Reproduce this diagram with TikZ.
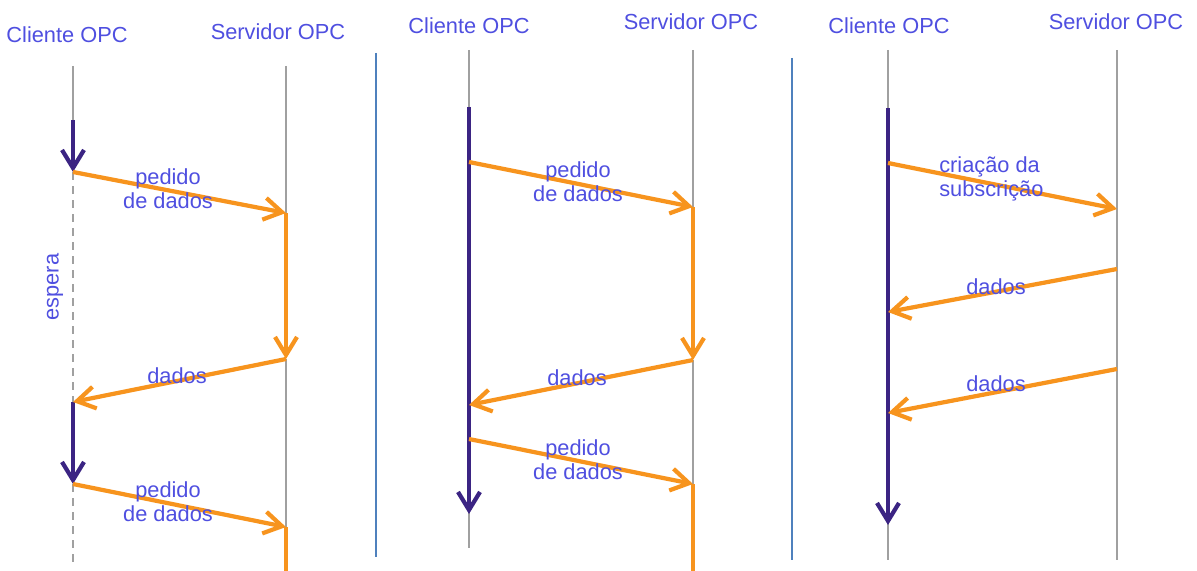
\documentclass[tikz,border=0pt]{standalone}
\usepackage{fontspec}
\setmainfont{Liberation Sans}
\usetikzlibrary{arrows.meta}
\definecolor{TextoOPC}{HTML}{4F4FE0}
\definecolor{LaranjaOPC}{HTML}{F7941E}
\definecolor{RoxoOPC}{HTML}{3B2483}
\definecolor{CinzaOPC}{HTML}{A0A0A0}
\definecolor{AzulOPC}{HTML}{4F81BD}
\begin{document}
\begin{tikzpicture}[x=0.025cm, y=-0.025cm,
        every node/.style={inner sep=0pt, text=TextoOPC, align=center, font=\fontsize{15.5}{17}\selectfont},
        vida/.style={draw=CinzaOPC, line width=1.3pt},
        espera/.style={vida, dash pattern=on 2mm off 1.5mm},
        cliente/.style={draw=RoxoOPC, line width=3pt, -{Straight Barb[length=4.5mm,width=5.5mm]}},
        servico/.style={draw=LaranjaOPC, line width=3pt, -{Straight Barb[length=4.5mm,width=5.5mm]}},
        msg/.style={draw=LaranjaOPC, line width=3pt, -{Straight Barb[length=4.5mm,width=5.5mm]}},
        divisao/.style={draw=AzulOPC, line width=1.4pt}]
        \useasboundingbox (0,0) rectangle (1197,571);

        \node (cli1) at (67,35) {Cliente OPC};
        \node (srv1) at (278,32) {Servidor OPC};
        \coordinate (c1a) at (73,66); \coordinate (c1b) at (73,120);
        \coordinate (c1c) at (73,172); \coordinate (c1d) at (73,402);
        \coordinate (c1e) at (73,484); \coordinate (c1f) at (73,566);
        \coordinate (s1a) at (286,66); \coordinate (s1b) at (286,213);
        \coordinate (s1c) at (286,359); \coordinate (s1d) at (286,527);
        \coordinate (s1e) at (286,571);
        \draw[vida] (c1a) -- (c1b); \draw[cliente] (c1b) -- (c1c);
        \draw[espera] (c1c) -- (c1d); \draw[cliente] (c1d) -- (c1e);
        \draw[espera] (c1e) -- (c1f);
        \draw[vida] (s1a) -- (s1b); \draw[servico] (s1b) -- (s1c);
        \draw[vida] (s1c) -- (s1d); \draw[servico, -] (s1d) -- (s1e);
        \draw[msg] (c1c) -- (s1b); \draw[msg] (s1c) -- (c1d); \draw[msg] (c1e) -- (s1d);
        \node (p1a) at (168,189) {pedido\\de dados};
        \node (d1) at (177,376) {dados};
        \node (p1b) at (168,502) {pedido\\de dados};
        \node[rotate=90] (esp) at (55,287) {espera};

        \coordinate (v1a) at (376,53); \coordinate (v1b) at (376,557);
        \draw[divisao] (v1a) -- (v1b);

        \node (cli2) at (469,26) {Cliente OPC};
        \node (srv2) at (691,22) {Servidor OPC};
        \coordinate (c2a) at (469,50); \coordinate (c2b) at (469,107);
        \coordinate (c2c) at (469,162); \coordinate (c2d) at (469,405);
        \coordinate (c2e) at (469,439); \coordinate (c2f) at (469,514);
        \coordinate (c2g) at (469,548);
        \coordinate (s2a) at (693,50); \coordinate (s2b) at (693,207);
        \coordinate (s2c) at (693,360); \coordinate (s2d) at (693,484);
        \coordinate (s2e) at (693,571);
        \draw[vida] (c2a) -- (c2g); \draw[cliente] (c2b) -- (c2f);
        \draw[vida] (s2a) -- (s2b); \draw[servico] (s2b) -- (s2c);
        \draw[vida] (s2c) -- (s2d); \draw[servico, -] (s2d) -- (s2e);
        \draw[msg] (c2c) -- (s2b); \draw[msg] (s2c) -- (c2d); \draw[msg] (c2e) -- (s2d);
        \node (p2a) at (578,182) {pedido\\de dados};
        \node (d2) at (577,378) {dados};
        \node (p2b) at (578,460) {pedido\\de dados};

        \coordinate (v2a) at (792,58); \coordinate (v2b) at (792,560);
        \draw[divisao] (v2a) -- (v2b);

        \node (cli3) at (889,26) {Cliente OPC};
        \node (srv3) at (1116,22) {Servidor OPC};
        \coordinate (c3a) at (888,50); \coordinate (c3b) at (888,108);
        \coordinate (c3c) at (888,163); \coordinate (c3d) at (888,312);
        \coordinate (c3e) at (888,413); \coordinate (c3f) at (888,525);
        \coordinate (c3g) at (888,560);
        \coordinate (s3a) at (1117,50); \coordinate (s3b) at (1117,209);
        \coordinate (s3c) at (1117,269); \coordinate (s3d) at (1117,369);
        \coordinate (s3e) at (1117,560);
        \draw[vida] (c3a) -- (c3g); \draw[cliente] (c3b) -- (c3f);
        \draw[vida] (s3a) -- (s3e);
        \draw[msg] (c3c) -- (s3b); \draw[msg] (s3c) -- (c3d); \draw[msg] (s3d) -- (c3e);
        \node[anchor=west, align=left] (sub) at (939,179) {criação da\\subscrição};
        \node (d3a) at (996,287) {dados};
        \node (d3b) at (996,384) {dados};
    \end{tikzpicture}
\end{document}
